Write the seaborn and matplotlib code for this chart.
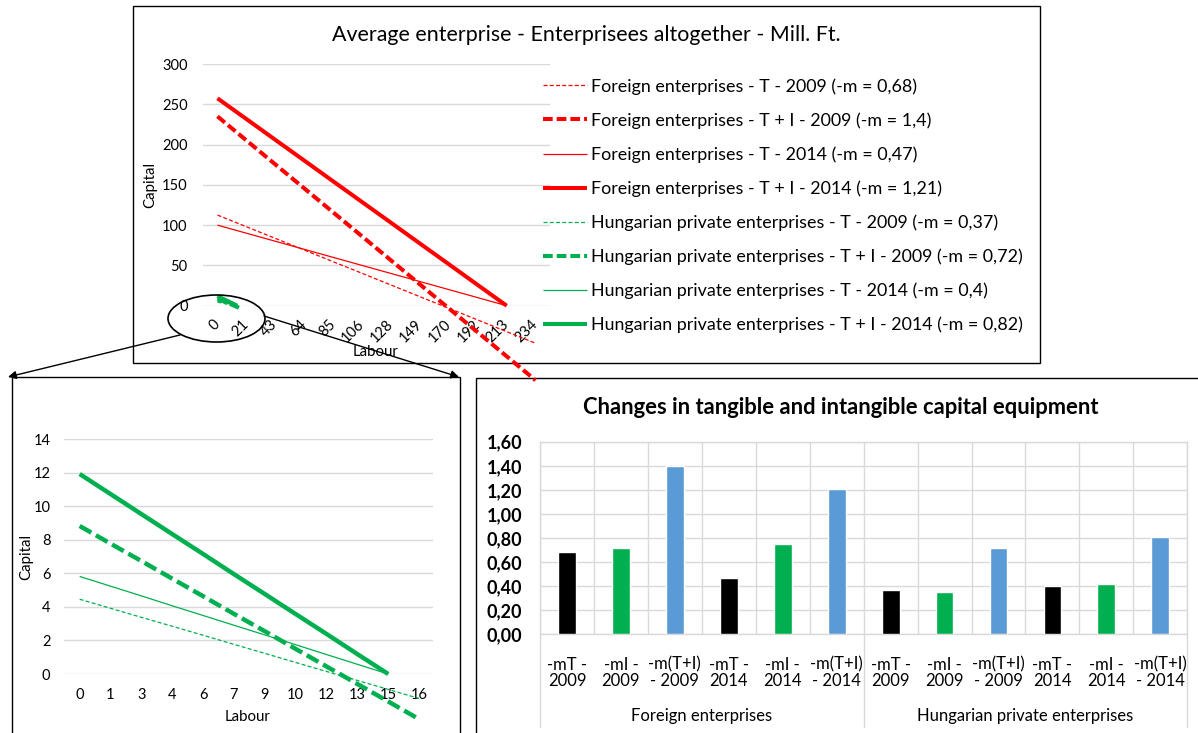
import numpy as np
import pandas as pd
import matplotlib
matplotlib.use("Agg")
import matplotlib.pyplot as plt
import matplotlib.transforms as mtransforms
from matplotlib.patches import Ellipse, Rectangle, FancyArrowPatch
import seaborn as sns

# ---------------- data ----------------
labour_top = [0, 21.27, 42.55, 63.82, 85.09, 106.36, 127.64, 148.91, 170.18, 191.45, 212.73, 234.0]
labour_top_ticklabels = ["0", "21", "43", "64", "85", "106", "128", "149", "170", "192", "213", "234"]
capital_top_ticks = [0, 50, 100, 150, 200, 250, 300]

labour_hu = [0, 1.45, 2.91, 4.36, 5.82, 7.27, 8.73, 10.18, 11.64, 13.09, 14.55, 16.0]
labour_hu_ticklabels = ["0", "1", "3", "4", "6", "7", "9", "10", "12", "13", "15", "16"]
capital_hu_ticks = [0, 2, 4, 6, 8, 10, 12, 14]

foreign_T_2009 = [112.5, 98.0, 83.6, 69.1, 54.6, 40.2, 25.7, 11.2, -3.2, -17.7, -32.2, -46.6]
foreign_TI_2009 = [235.0, 205.2, 175.4, 145.7, 115.9, 86.1, 56.3, 26.5, -3.3, -33.0, -62.8, -92.6]
foreign_T_2014 = [100.0, 90.0, 80.0, 70.0, 60.0, 50.0, 40.0, 30.0, 20.0, 10.0, 0.0]
foreign_TI_2014 = [257.4, 231.7, 205.9, 180.2, 154.4, 128.7, 103.0, 77.2, 51.5, 25.7, 0.0]

hungarian_T_2009 = [4.46, 3.92, 3.38, 2.85, 2.31, 1.77, 1.23, 0.69, 0.15, -0.38, -0.92, -1.46]
hungarian_TI_2009 = [8.83, 7.78, 6.74, 5.69, 4.64, 3.59, 2.55, 1.50, 0.45, -0.59, -1.64, -2.69]
hungarian_T_2014 = [5.82, 5.24, 4.66, 4.07, 3.49, 2.91, 2.33, 1.75, 1.16, 0.58, 0.00]
hungarian_TI_2014 = [11.93, 10.74, 9.54, 8.35, 7.16, 5.96, 4.77, 3.58, 2.39, 1.19, 0.00]

series_labels = [
    "Foreign enterprises - T - 2009 (-m = 0,68)",
    "Foreign enterprises - T + I - 2009 (-m = 1,4)",
    "Foreign enterprises - T - 2014 (-m = 0,47)",
    "Foreign enterprises - T + I - 2014 (-m = 1,21)",
    "Hungarian private enterprises - T - 2009 (-m = 0,37)",
    "Hungarian private enterprises - T + I - 2009 (-m = 0,72)",
    "Hungarian private enterprises - T - 2014 (-m = 0,4)",
    "Hungarian private enterprises - T + I - 2014 (-m = 0,82)",
]

bar_ticklabels = ["-mT -\n2009", "-mI -\n2009", "-m(T+I)\n- 2009", "-mT -\n2014", "-mI -\n2014", "-m(T+I)\n- 2014"] * 2
bar_groups = ["Foreign enterprises", "Hungarian private enterprises"]
bar_kind = ["T", "I", "T+I"] * 4
bar_values = [0.68, 0.72, 1.40, 0.47, 0.75, 1.21, 0.37, 0.35, 0.72, 0.40, 0.42, 0.81]
bar_yticks = [0.0, 0.2, 0.4, 0.6, 0.8, 1.0, 1.2, 1.4, 1.6]
bar_yticklabels = ["0,00", "0,20", "0,40", "0,60", "0,80", "1,00", "1,20", "1,40", "1,60"]

# ---------------- style ----------------
RED = "#FF0000"
GREEN = "#00B050"
BLUE = "#5B9BD5"
GRID = "#D9D9D9"

sns.set_theme(style="white")
plt.rcParams["font.family"] = ["Lato", "DejaVu Sans"]
plt.rcParams["text.color"] = "black"
plt.rcParams["xtick.color"] = "black"
plt.rcParams["ytick.color"] = "black"

W, H = 1198, 733
fig = plt.figure(figsize=(W / 100, H / 100), dpi=100)


def rect(l, t, r, b):
    return [l / W, 1 - b / H, (r - l) / W, (b - t) / H]


def fxy(x, y):
    return (x / W, 1 - y / H)


NFS = 10.5   # numbers
AFS = 10.8   # axis titles
WFS = 12.0   # category words
LFS = 12.9   # legend

thin_dash = (0, (3.2, 1.8))
thick_dash = (0, (2.4, 1.0))
thick_dash2 = (0, (3.0, 1.2))

# ================= top chart =================
ax1 = fig.add_axes(rect(203, 64, 550, 305.7))
step = labour_top[1]
styles = [
    (foreign_T_2009, labour_top, RED, 0.9, thin_dash),
    (foreign_TI_2009, labour_top, RED, 2.9, thick_dash),
    (foreign_T_2014, labour_top[:11], RED, 0.9, "-"),
    (foreign_TI_2014, labour_top[:11], RED, 2.9, "-"),
    (hungarian_T_2009, labour_hu, GREEN, 0.9, thin_dash),
    (hungarian_TI_2009, labour_hu, GREEN, 2.9, thick_dash),
    (hungarian_T_2014, labour_hu[:11], GREEN, 0.9, "-"),
    (hungarian_TI_2014, labour_hu[:11], GREEN, 2.9, "-"),
]
for (vals, xs, col, lw, ls), lab in zip(styles, series_labels):
    sns.lineplot(x=xs, y=vals, ax=ax1, color=col, linewidth=lw, linestyle=ls,
                 label=lab, clip_on=False, sort=False, estimator=None,
                 solid_capstyle="butt", dash_capstyle="butt")
ax1.set_xlim(-0.5 * step, 11.5 * step)
ax1.set_ylim(0, 300)
ax1.set_yticks(capital_top_ticks)
ax1.set_yticklabels([str(v) for v in capital_top_ticks], fontsize=NFS)
ax1.set_xticks(labour_top)
ax1.set_xticklabels(labour_top_ticklabels, rotation=45, ha="right", va="center",
                    rotation_mode="anchor", fontsize=NFS)
ax1.tick_params(axis="x", length=0, pad=12)
ax1.tick_params(axis="y", length=0, pad=11)
ax1.grid(axis="y", color=GRID, linewidth=1.0)
ax1.grid(axis="x", visible=False)
for s in ax1.spines.values():
    s.set_visible(False)
ax1.set_xlabel("")
ax1.set_ylabel("")
fig.text(*fxy(150, 185), "Capital", rotation=90, ha="center", va="center", fontsize=AFS)
fig.text(*fxy(375, 352), "Labour", ha="center", va="center", fontsize=AFS)
fig.text(*fxy(586.5, 35), "Average enterprise - Enterprisees altogether - Mill. Ft.",
         ha="center", va="center", fontsize=15.4)

handles, labels = ax1.get_legend_handles_labels()
leg = ax1.legend(handles, labels, loc="upper left", bbox_to_anchor=fxy(543, 78),
                 bbox_transform=fig.transFigure, frameon=False, fontsize=LFS,
                 handlelength=2.45, handletextpad=0.22, labelspacing=0.98,
                 borderpad=0, borderaxespad=0)

# ================= bottom-left chart =================
ax2 = fig.add_axes(rect(64.3, 439.3, 433.3, 674))
step2 = labour_hu[1]
hu_styles = [
    (hungarian_T_2009, labour_hu, 0.9, thin_dash),
    (hungarian_TI_2009, labour_hu, 3.2, thick_dash2),
    (hungarian_T_2014, labour_hu[:11], 0.9, "-"),
    (hungarian_TI_2014, labour_hu[:11], 3.2, "-"),
]
for vals, xs, lw, ls in hu_styles:
    sns.lineplot(x=xs, y=vals, ax=ax2, color=GREEN, linewidth=lw, linestyle=ls,
                 clip_on=False, sort=False, estimator=None, legend=False,
                 solid_capstyle="butt", dash_capstyle="butt")
ax2.set_xlim(-0.5 * step2, 11.5 * step2)
ax2.set_ylim(0, 14)
ax2.set_yticks(capital_hu_ticks)
ax2.set_yticklabels([str(v) for v in capital_hu_ticks], fontsize=NFS)
ax2.set_xticks(labour_hu)
ax2.set_xticklabels(labour_hu_ticklabels, fontsize=NFS)
ax2.tick_params(axis="x", length=0, pad=10)
ax2.tick_params(axis="y", length=0, pad=10)
ax2.grid(axis="y", color=GRID, linewidth=1.0)
ax2.grid(axis="x", visible=False)
for s in ax2.spines.values():
    s.set_visible(False)
ax2.set_xlabel("")
ax2.set_ylabel("")
fig.text(*fxy(26, 557), "Capital", rotation=90, ha="center", va="center", fontsize=AFS)
fig.text(*fxy(248, 717), "Labour", ha="center", va="center", fontsize=AFS)

# ================= bottom-right chart =================
ax3 = fig.add_axes(rect(540, 441.7, 1187.3, 634.3))
bdf = pd.DataFrame({"pos": list(range(12)), "value": bar_values, "kind": bar_kind})
sns.barplot(data=bdf, x="pos", y="value", hue="kind", dodge=False, width=0.33,
            palette={"T": "black", "I": GREEN, "T+I": BLUE}, saturation=1,
            legend=False, ax=ax3, zorder=3)
ax3.set_xlim(-0.5, 11.5)
ax3.set_ylim(0, 1.6)
ax3.set_yticks(bar_yticks)
ax3.set_yticklabels(bar_yticklabels, fontsize=13, fontweight="bold")
ax3.set_xticks(range(12))
ax3.set_xticklabels(bar_ticklabels, fontsize=WFS, linespacing=1.0)
ax3.set_xticks(np.arange(-0.5, 12, 1), minor=True)
ax3.tick_params(axis="x", which="both", length=0, pad=16)
ax3.tick_params(axis="y", length=0, pad=13)
ax3.set_axisbelow(True)
ax3.grid(axis="y", which="major", color=GRID, linewidth=1.0)
ax3.grid(axis="x", which="minor", color=GRID, linewidth=1.0)
ax3.grid(axis="x", which="major", visible=False)
for s in ax3.spines.values():
    s.set_color(GRID)
    s.set_linewidth(1.0)
ax3.set_xlabel("")
ax3.set_ylabel("")
blend = mtransforms.blended_transform_factory(ax3.transData, ax3.transAxes)
low = -(727 - 634.3) / (634.3 - 441.7)
for xb in (-0.5, 5.5, 11.5):
    ax3.plot([xb, xb], [0, low], transform=blend, color=GRID, linewidth=1.0, clip_on=False)
ylab = -(716 - 634.3) / (634.3 - 441.7)
ax3.text(2.5, ylab, bar_groups[0], transform=blend, ha="center", va="center", fontsize=WFS)
ax3.text(8.5, ylab, bar_groups[1], transform=blend, ha="center", va="center", fontsize=WFS)
fig.text(*fxy(841, 407), "Changes in tangible and intangible capital equipment",
         ha="center", va="center", fontsize=15.8, fontweight="bold")

# ================= frames, ellipse, arrows =================
lwf = 1.0
frames = [
    (133.3, 6, 1040, 363.3),
    (12.3, 377.3, 460, 745),
    (476, 377.7, 1210, 745),
]
for l, t, r, b in frames:
    x0, y0 = fxy(l, b)
    fig.add_artist(Rectangle((x0, y0), (r - l) / W, (b - t) / H, transform=fig.transFigure,
                             fill=False, edgecolor="black", linewidth=lwf, zorder=0))

cx, cy = fxy(216.5, 318.5)
fig.add_artist(Ellipse((cx, cy), 97 / W, 47 / H, transform=fig.transFigure,
                       fill=False, edgecolor="black", linewidth=1.2, zorder=10))
for (xa, ya), (xb, yb) in [((180, 335), (8, 377)), ((264, 316), (459, 377))]:
    fig.add_artist(FancyArrowPatch(fxy(xa, ya), fxy(xb, yb), transform=fig.transFigure,
                                   arrowstyle="-|>", mutation_scale=12, color="black",
                                   linewidth=1.0, shrinkA=0, shrinkB=0, zorder=10))

fig.savefig("out.png", dpi=100)
